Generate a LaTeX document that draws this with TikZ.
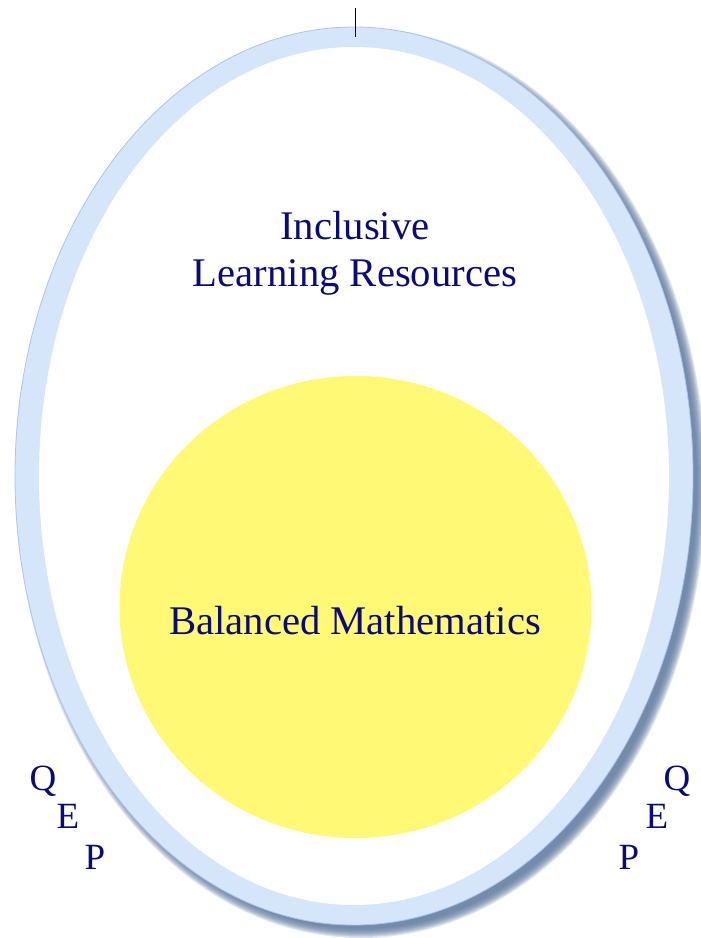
\documentclass[tikz,border=0pt]{standalone}
\usepackage{fontspec}
\setmainfont{Liberation Serif}
\definecolor{ringblue}{HTML}{D5E6FA}
\definecolor{ringedge}{HTML}{A9C4EA}
\definecolor{shadowc}{HTML}{5A769C}
\definecolor{txtblue}{HTML}{0B0B78}
\definecolor{yel}{HTML}{FFF975}
\begin{document}
\begin{tikzpicture}[x=1pt,y=-1pt,
  lbl/.style={text=txtblue, font=\fontsize{40.7}{47}\selectfont, anchor=base, inner sep=0},
  qep/.style={text=txtblue, font=\fontsize{37}{40}\selectfont, anchor=base, inner sep=0}]
\useasboundingbox (0,0) rectangle (701,938);
% shadow
\foreach \i in {0,...,9}
  \fill[shadowc, opacity=0.17] (361,483) ellipse ({345-\i} and {455-\i});
% ring
\fill[ringblue, draw=ringedge, line width=0.8] (354,476) ellipse (339 and 449);
\fill[white] (354,476) ellipse (315 and 429);
% yellow circle
\fill[yel] (355.5,607) ellipse (236 and 231);
% texts
\node[lbl] (t1) at (355,239) {Inclusive};
\node[lbl] (t2) at (355,286) {Learning Resources};
\node[lbl] (bm) at (355,634) {Balanced Mathematics};
\node[qep] (lq) at (43,790) {Q};
\node[qep] (le) at (68,828) {E};
\node[qep] (lp) at (95,869) {P};
\node[qep] (rq) at (677,790) {Q};
\node[qep] (re) at (657,828) {E};
\node[qep] (rp) at (629,869) {P};
% top tick
\coordinate (tickA) at (355.5,8);
\coordinate (tickB) at (355.5,37);
\draw[line width=1.2] (tickA) -- (tickB);
\end{tikzpicture}
\end{document}
